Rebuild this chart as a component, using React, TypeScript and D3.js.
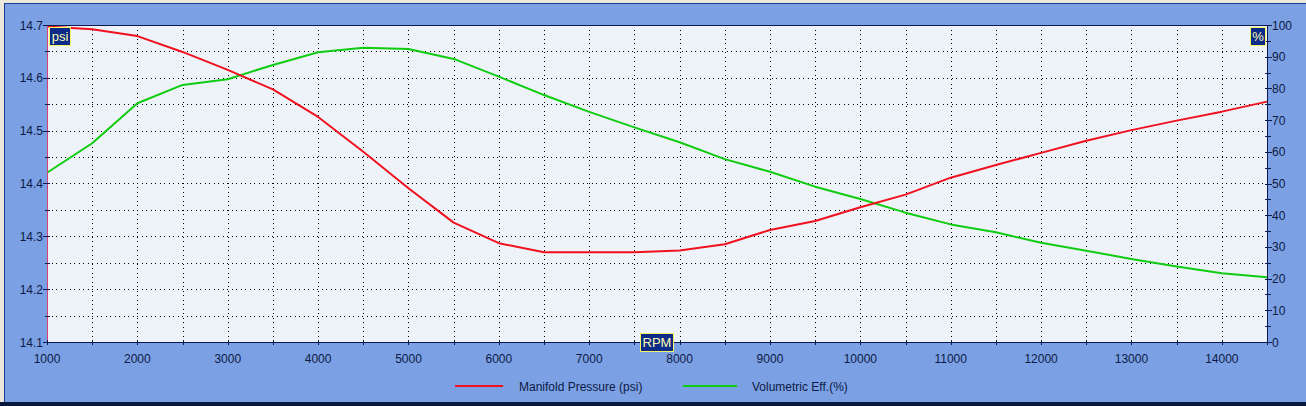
import React from "react";
import * as d3 from "d3";

const rpm = [1000, 1500, 2000, 2500, 3000, 3500, 4000, 4500, 5000, 5500, 6000, 6500, 7000, 7500, 8000, 8500, 9000, 9500, 10000, 10500, 11000, 11500, 12000, 12500, 13000, 13500, 14000, 14500];
const manifoldPressure = [14.697, 14.692, 14.679, 14.649, 14.615, 14.578, 14.526, 14.46, 14.391, 14.326, 14.287, 14.27, 14.27, 14.27, 14.273, 14.285, 14.312, 14.329, 14.355, 14.379, 14.411, 14.435, 14.458, 14.481, 14.501, 14.519, 14.536, 14.555];
const volumetricEff = [53.4, 62.7, 75.3, 81.1, 82.9, 87.4, 91.4, 92.8, 92.4, 89.3, 83.7, 77.9, 72.6, 67.7, 63.0, 57.7, 53.7, 49.0, 45.1, 40.8, 37.1, 34.6, 31.3, 28.8, 26.2, 23.8, 21.7, 20.4];
const xTickLabels = [1000, 2000, 3000, 4000, 5000, 6000, 7000, 8000, 9000, 10000, 11000, 12000, 13000, 14000];
const leftTickLabels = [14.1, 14.2, 14.3, 14.4, 14.5, 14.6, 14.7];
const rightTickLabels = [0, 10, 20, 30, 40, 50, 60, 70, 80, 90, 100];
const seriesNames = ["Manifold Pressure (psi)", "Volumetric Eff.(%)"];

const W = 1306, H = 406;
const L = 47, R = 1267, T = 25, B = 342;
const FONT = "'Liberation Sans', Arial, sans-serif";
const TEXT = "#0d1a45";
const RED = "#f0101e";
const GREEN = "#10cc10";

export default function App() {
  const x = d3.scaleLinear().domain([1000, 14500]).range([L, R]);
  const yL = d3.scaleLinear().domain([14.1, 14.7]).range([B, T]);
  const yR = d3.scaleLinear().domain([0, 100]).range([B, T]);

  const redLine = d3.line<number>().x((_, i) => x(rpm[i])).y((d) => yL(d))(manifoldPressure) || "";
  const greenLine = d3.line<number>().x((_, i) => x(rpm[i])).y((d) => yR(d))(volumetricEff) || "";

  const vGrid = d3.range(1500, 14500, 500);
  const hGrid = d3.range(1, 12).map((i) => 14.1 + i * 0.05);
  const xMinor = d3.range(1000, 14501, 500);
  const leftMinor = d3.range(0, 13).map((i) => 14.1 + i * 0.05);
  const rightMinor = d3.range(0, 101, 5);

  return (
    <svg width={W} height={H} style={{ position: "absolute", left: 0, top: 0 }} fontFamily={FONT}>
      <rect x={0} y={0} width={W} height={H} fill="#ece8dc" />
      <rect x={4.5} y={3.5} width={W} height={399} fill="#7ba0e4" stroke="#1a3a90" strokeWidth={1} />
      <rect x={0} y={402} width={W} height={4} fill="#0a1840" />
      <rect x={L} y={T} width={R - L} height={B - T} fill="#eef3fa" />

      <g stroke="#000" strokeWidth={1} strokeDasharray="1 3.5" shapeRendering="crispEdges">
        {vGrid.map((v) => (
          <line key={"v" + v} x1={Math.round(x(v)) + 0.5} x2={Math.round(x(v)) + 0.5} y1={T} y2={B} />
        ))}
        {hGrid.map((v, i) => (
          <line key={"h" + i} x1={L} x2={R} y1={Math.round(yL(v)) + 0.5} y2={Math.round(yL(v)) + 0.5} />
        ))}
      </g>

      <path d={greenLine} fill="none" stroke={GREEN} strokeWidth={2} strokeLinejoin="round" />
      <path d={redLine} fill="none" stroke={RED} strokeWidth={2} strokeLinejoin="round" />

      {/* plot frame */}
      <line x1={L} x2={R} y1={T + 0.5} y2={T + 0.5} stroke="#0a1a50" strokeWidth={1} />
      <line x1={R + 0.5} x2={R + 0.5} y1={T} y2={B} stroke="#0a1a50" strokeWidth={1} />
      <line x1={L} x2={R + 1} y1={B + 0.5} y2={B + 0.5} stroke="#0a1a50" strokeWidth={1} />
      <line x1={L + 0.5} x2={L + 0.5} y1={T} y2={B} stroke="#d8407a" strokeWidth={1} />

      {/* bottom axis */}
      <g stroke="#0a1a50" strokeWidth={1} shapeRendering="crispEdges">
        {xMinor.map((v) => (
          <line key={"xt" + v} x1={Math.round(x(v)) + 0.5} x2={Math.round(x(v)) + 0.5} y1={B - 2} y2={B + 3} />
        ))}
        {leftMinor.map((v, i) => (
          <line key={"lt" + i} x1={i % 2 === 0 ? L - 4 : L - 2} x2={L + 3} y1={Math.round(yL(v)) + 0.5} y2={Math.round(yL(v)) + 0.5} />
        ))}
        {rightMinor.map((v) => (
          <line key={"rt" + v} x1={R - 2} x2={v % 10 === 0 ? R + 5 : R + 4} y1={Math.round(yR(v)) + 0.5} y2={Math.round(yR(v)) + 0.5} />
        ))}
      </g>
      <g fill={TEXT} fontSize={12}>
        {xTickLabels.map((v) => (
          <text key={"xl" + v} x={x(v)} y={363} textAnchor="middle">{v}</text>
        ))}
        {leftTickLabels.map((v) => (
          <text key={"ll" + v} x={43} y={yL(v) + 4.5} textAnchor="end">{v.toFixed(1)}</text>
        ))}
        {rightTickLabels.map((v) => (
          <text key={"rl" + v} x={1272} y={yR(v) + 4.5} textAnchor="start">{v}</text>
        ))}
      </g>

      {/* unit boxes */}
      <g>
        <rect x={49.5} y={27.5} width={21} height={18} fill="#0c2a88" stroke="#f8f860" strokeWidth={1} />
        <text x={60} y={41} textAnchor="middle" fill="#fdfdb0" fontSize={13}>psi</text>
        <rect x={1250.5} y={27.5} width={15} height={18} fill="#0c2a88" stroke="#f8f860" strokeWidth={1} />
        <text x={1258} y={41} textAnchor="middle" fill="#fdfdb0" fontSize={13}>%</text>
        <rect x={640.5} y={333.5} width={33} height={18} fill="#0c2a88" stroke="#f8f860" strokeWidth={1} />
        <text x={657} y={347} textAnchor="middle" fill="#fdfdb0" fontSize={13}>RPM</text>
      </g>

      {/* legend */}
      <line x1={455} x2={503} y1={386} y2={386} stroke={RED} strokeWidth={2} />
      <text x={519} y={391} fill={TEXT} fontSize={12}>{seriesNames[0]}</text>
      <line x1={683} x2={737} y1={386} y2={386} stroke={GREEN} strokeWidth={2} />
      <text x={752} y={391} fill={TEXT} fontSize={12}>{seriesNames[1]}</text>
    </svg>
  );
}
